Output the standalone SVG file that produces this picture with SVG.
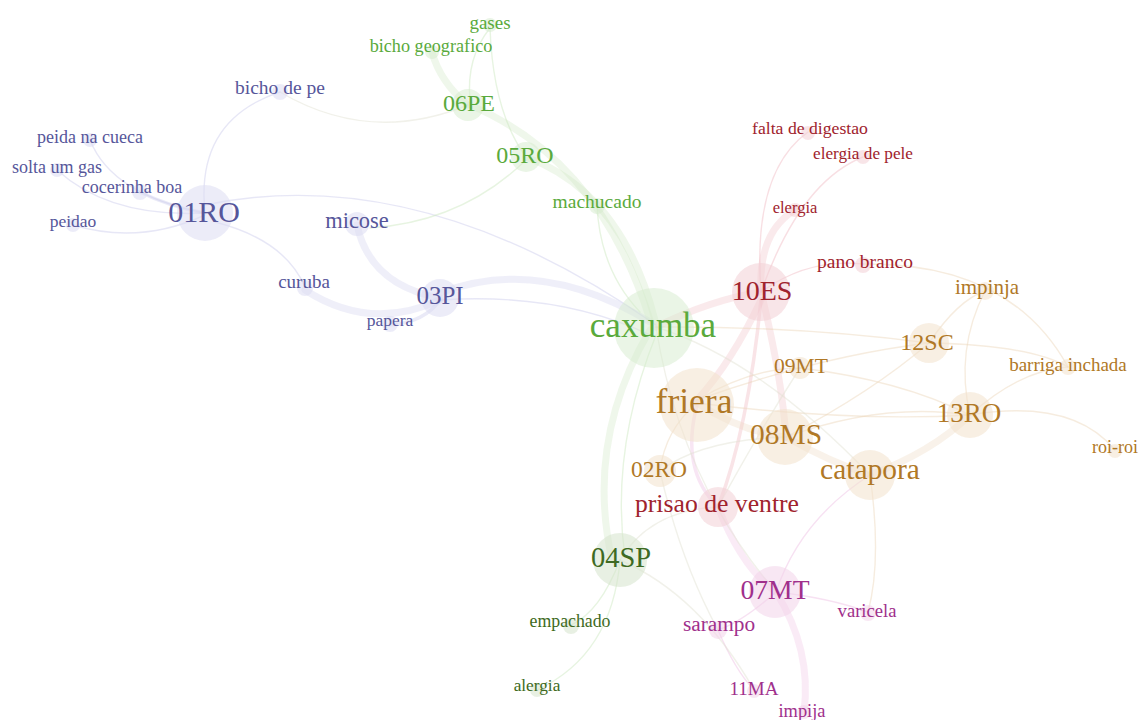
<svg xmlns="http://www.w3.org/2000/svg" width="1139" height="720" viewBox="0 0 1139 720">
<style>
  text { font-family: "Liberation Serif", "Times New Roman", serif; text-anchor: middle; }
  .e { fill: none; stroke-linecap: round; }
  .t1 { stroke-width: 1.4; stroke-opacity: 0.45; }
  .t2 { stroke-width: 3.5; stroke-opacity: 0.38; }
  .t3 { stroke-width: 7; stroke-opacity: 0.3; }
  .cb { stroke: #c9c9ea; }
  .cg { stroke: #c9e6bd; }
  .cr { stroke: #f0b9c1; }
  .co { stroke: #ecd5b8; }
  .cm { stroke: #edbde2; }
  .cx { stroke: #e0e0d0; }
  .nb circle { fill: #dcdcf2; fill-opacity: 0.55; }
  .nb text { fill: #56569a; }
  .ng circle { fill: #d6ecce; fill-opacity: 0.5; }
  .ng text { fill: #5aaa3c; }
  .nd circle { fill: #d6e4cc; fill-opacity: 0.55; }
  .nd text { fill: #3e6a22; }
  .nr circle { fill: #f3d0d5; fill-opacity: 0.55; }
  .nr text { fill: #a0232d; }
  .no circle { fill: #f2e2cc; fill-opacity: 0.55; }
  .no text { fill: #b07826; }
  .nm circle { fill: #f3d3ea; fill-opacity: 0.55; }
  .nm text { fill: #a0308c; }
</style>
<rect width="1139" height="720" fill="#ffffff"/>

<g id="edges">
  <!-- blue cluster -->
  <path class="e t1 cb" d="M205,213 Q195,120 280,92"/>
  <path class="e t1 cx" d="M280,92 Q370,145 468,105"/>
  <path class="e t1 cb" d="M90,140 Q112,195 205,213"/>
  <path class="e t1 cb" d="M57,170 Q110,218 205,213"/>
  <path class="e t2 cb" d="M140,192 Q170,207 205,213"/>
  <path class="e t1 cb" d="M73,225 Q140,245 205,215"/>
  <path class="e t1 cb" d="M205,205 Q420,160 656,325"/>
  <path class="e t1 cb" d="M215,222 Q285,240 305,287"/>
  <path class="e t3 cb" d="M305,290 Q370,332 440,300"/>
  <path class="e t2 cb" d="M390,325 Q425,322 440,300"/>
  <path class="e t3 cb" d="M357,225 Q370,285 440,298"/>
  <path class="e t3 cb" d="M440,293 Q540,255 650,322"/>
  <path class="e t1 cb" d="M440,300 Q560,292 650,335"/>
  <path class="e t1 cg" d="M370,228 Q462,222 526,160"/>

  <!-- green cluster -->
  <path class="e t3 cg" d="M468,105 Q440,82 432,52"/>
  <path class="e t1 cg" d="M470,100 Q466,58 490,28"/>
  <path class="e t1 cg" d="M490,28 Q493,112 526,157"/>
  <path class="e t3 cg" d="M470,105 Q600,160 650,320"/>
  <path class="e t3 cg" d="M526,157 Q622,192 655,320"/>
  <path class="e t1 cg" d="M597,205 Q600,270 640,312"/>
  <path class="e t3 cg" d="M650,330 Q585,440 612,560"/>
  <path class="e t1 cg" d="M656,335 Q610,450 625,558"/>
  <path class="e t1 cg" d="M620,560 Q600,612 571,625"/>
  <path class="e t1 cg" d="M620,560 Q612,655 537,690"/>

  <!-- red cluster -->
  <path class="e t3 cr" d="M656,327 Q710,300 761,292"/>
  <path class="e t3 cr" d="M761,292 Q758,232 795,210"/>
  <path class="e t1 cr" d="M761,292 Q752,172 808,132"/>
  <path class="e t1 cr" d="M761,292 Q800,182 863,157"/>
  <path class="e t1 cr" d="M761,292 Q808,258 863,264"/>
  <path class="e t1 co" d="M863,264 Q1010,262 1068,367"/>
  <path class="e t3 cr" d="M761,300 Q732,362 697,400"/>
  <path class="e t3 cr" d="M763,300 Q782,380 786,437"/>
  <path class="e t2 cr" d="M761,300 Q748,430 718,507"/>
  <path class="e t2 cm" d="M697,405 Q680,470 718,507"/>

  <!-- orange cluster -->
  <path class="e t3 co" d="M697,403 Q742,432 786,437"/>
  <path class="e t3 co" d="M786,437 Q830,462 870,475"/>
  <path class="e t3 co" d="M870,475 Q932,452 970,415"/>
  <path class="e t1 co" d="M970,415 Q1072,398 1115,450"/>
  <path class="e t1 co" d="M970,415 Q1020,370 1068,367"/>
  <path class="e t1 co" d="M929,343 Q958,300 985,291"/>
  <path class="e t1 co" d="M985,291 Q955,350 970,415"/>
  <path class="e t1 co" d="M697,400 Q820,356 929,343"/>
  <path class="e t1 co" d="M786,437 Q872,392 929,343"/>
  <path class="e t1 co" d="M697,400 Q752,368 800,368"/>
  <path class="e t1 co" d="M800,368 Q900,380 970,415"/>
  <path class="e t1 co" d="M660,471 Q665,430 697,403"/>
  <path class="e t1 co" d="M697,403 Q850,422 970,415"/>
  <path class="e t1 co" d="M786,437 Q882,402 970,415"/>
  <path class="e t1 co" d="M656,327 Q800,326 929,343"/>
  <path class="e t1 co" d="M929,343 Q1030,345 1068,367"/>
  <path class="e t1 cx" d="M656,327 Q760,360 870,475"/>
  <path class="e t1 cx" d="M660,471 Q700,440 786,437"/>
  <path class="e t1 cx" d="M800,368 Q760,430 718,507"/>

  <!-- magenta cluster -->
  <path class="e t3 cm" d="M718,507 Q742,568 776,592"/>
  <path class="e t3 cm" d="M776,592 Q812,650 804,712"/>
  <path class="e t1 cm" d="M870,475 Q800,520 776,592"/>
  <path class="e t1 co" d="M870,475 Q882,560 868,612"/>
  <path class="e t1 cm" d="M776,592 Q830,598 868,612"/>
  <path class="e t1 cm" d="M776,592 Q742,622 718,630"/>
  <path class="e t1 cm" d="M718,630 Q735,670 754,690"/>
  <path class="e t1 cx" d="M620,560 Q700,595 754,690"/>
  <path class="e t1 cx" d="M620,560 Q650,510 718,507"/>
  <path class="e t1 cx" d="M656,327 Q680,480 776,592"/>
  <path class="e t1 cx" d="M660,471 Q680,560 718,630"/>
</g>

<!-- blue cluster -->
<g id="n01RO" class="nb"><circle cx="205" cy="213" r="28"/><text x="204" y="222" font-size="30">01RO</text></g>
<g id="nBichoDePe" class="nb"><circle cx="280" cy="92" r="8"/><text x="280" y="94" font-size="19.5">bicho de pe</text></g>
<g id="nPeidaNaCueca" class="nb"><circle cx="90" cy="140" r="7"/><text x="90" y="143" font-size="18">peida na cueca</text></g>
<g id="nSoltaUmGas" class="nb"><circle cx="57" cy="170" r="7"/><text x="57" y="173" font-size="18">solta um gas</text></g>
<g id="nCocerinhaBoa" class="nb"><circle cx="140" cy="192" r="8"/><text x="132" y="193" font-size="18">cocerinha boa</text></g>
<g id="nPeidao" class="nb"><circle cx="73" cy="225" r="7"/><text x="73" y="227" font-size="17.5">peidao</text></g>
<g id="nMicose" class="nb"><circle cx="357" cy="224" r="12"/><text x="357" y="228" font-size="22.5">micose</text></g>
<g id="nCuruba" class="nb"><circle cx="305" cy="288" r="8"/><text x="304" y="288" font-size="19">curuba</text></g>
<g id="nPapera" class="nb"><circle cx="390" cy="324" r="8"/><text x="390" y="326" font-size="17.5">papera</text></g>
<g id="n03PI" class="nb"><circle cx="440" cy="298" r="19"/><text x="440" y="304" font-size="25">03PI</text></g>

<!-- green cluster -->
<g id="n06PE" class="ng"><circle cx="468" cy="105" r="16"/><text x="469" y="111" font-size="24">06PE</text></g>
<g id="nGases" class="ng"><circle cx="490" cy="25" r="7"/><text x="490" y="29" font-size="19">gases</text></g>
<g id="nBichoGeografico" class="ng"><circle cx="432" cy="52" r="7"/><text x="431" y="52" font-size="18.2">bicho geografico</text></g>
<g id="n05RO" class="ng"><circle cx="526" cy="157" r="15"/><text x="525" y="163" font-size="24">05RO</text></g>
<g id="nMachucado" class="ng"><circle cx="597" cy="206" r="8"/><text x="597" y="208" font-size="19.5">machucado</text></g>
<g id="nCaxumba" class="ng"><circle cx="654" cy="328" r="40"/><text x="653" y="337" font-size="35">caxumba</text></g>
<g id="n04SP" class="nd"><circle cx="620" cy="560" r="27"/><text x="621" y="567" font-size="28.5">04SP</text></g>
<g id="nEmpachado" class="nd"><circle cx="571" cy="626" r="8"/><text x="570" y="627" font-size="17.8">empachado</text></g>
<g id="nAlergia" class="nd"><circle cx="537" cy="690" r="7"/><text x="537" y="691" font-size="17.3">alergia</text></g>

<!-- red cluster -->
<g id="n10ES" class="nr"><circle cx="761" cy="292" r="29"/><text x="762" y="300" font-size="28">10ES</text></g>
<g id="nFaltaDeDigestao" class="nr"><circle cx="808" cy="133" r="7"/><text x="810" y="134" font-size="17.7">falta de digestao</text></g>
<g id="nElergiaDePele" class="nr"><circle cx="863" cy="157" r="7"/><text x="863" y="159" font-size="17.2">elergia de pele</text></g>
<g id="nElergia" class="nr"><circle cx="795" cy="210" r="7"/><text x="795" y="213" font-size="16.5">elergia</text></g>
<g id="nPanoBranco" class="nr"><circle cx="863" cy="265" r="8"/><text x="865" y="268" font-size="19.5">pano branco</text></g>
<g id="nPrisaoDeVentre" class="nr"><circle cx="718" cy="507" r="20"/><text x="717" y="512" font-size="25.7">prisao de ventre</text></g>

<!-- orange cluster -->
<g id="nFriera" class="no"><circle cx="697" cy="405" r="37"/><text x="694" y="413" font-size="35.5">friera</text></g>
<g id="n08MS" class="no"><circle cx="785" cy="437" r="28"/><text x="786" y="444" font-size="29.5">08MS</text></g>
<g id="nCatapora" class="no"><circle cx="870" cy="475" r="25"/><text x="870" y="479" font-size="29.5">catapora</text></g>
<g id="n13RO" class="no"><circle cx="970" cy="415" r="23"/><text x="969" y="422" font-size="27">13RO</text></g>
<g id="n12SC" class="no"><circle cx="929" cy="343" r="20"/><text x="927" y="350" font-size="24">12SC</text></g>
<g id="n09MT" class="no"><circle cx="800" cy="368" r="11"/><text x="801" y="373" font-size="21.6">09MT</text></g>
<g id="n02RO" class="no"><circle cx="660" cy="471" r="16"/><text x="659" y="477" font-size="23.5">02RO</text></g>
<g id="nImpinja" class="no"><circle cx="985" cy="291" r="9"/><text x="987" y="294" font-size="21">impinja</text></g>
<g id="nBarrigaInchada" class="no"><circle cx="1068" cy="367" r="8"/><text x="1068" y="371" font-size="19">barriga inchada</text></g>
<g id="nRoiRoi" class="no"><circle cx="1115" cy="451" r="7"/><text x="1115" y="453" font-size="18">roi-roi</text></g>

<!-- magenta cluster -->
<g id="n07MT" class="nm"><circle cx="775" cy="592" r="26"/><text x="775" y="599" font-size="27.6">07MT</text></g>
<g id="nVaricela" class="nm"><circle cx="868" cy="613" r="8"/><text x="867" y="617" font-size="18.6">varicela</text></g>
<g id="nSarampo" class="nm"><circle cx="718" cy="630" r="9"/><text x="719" y="631" font-size="21.3">sarampo</text></g>
<g id="n11MA" class="nm"><circle cx="754" cy="691" r="7"/><text x="754" y="695" font-size="19">11MA</text></g>
<g id="nImpija" class="nm"><circle cx="804" cy="712" r="7"/><text x="802" y="717" font-size="18.4">impija</text></g>
</svg>
